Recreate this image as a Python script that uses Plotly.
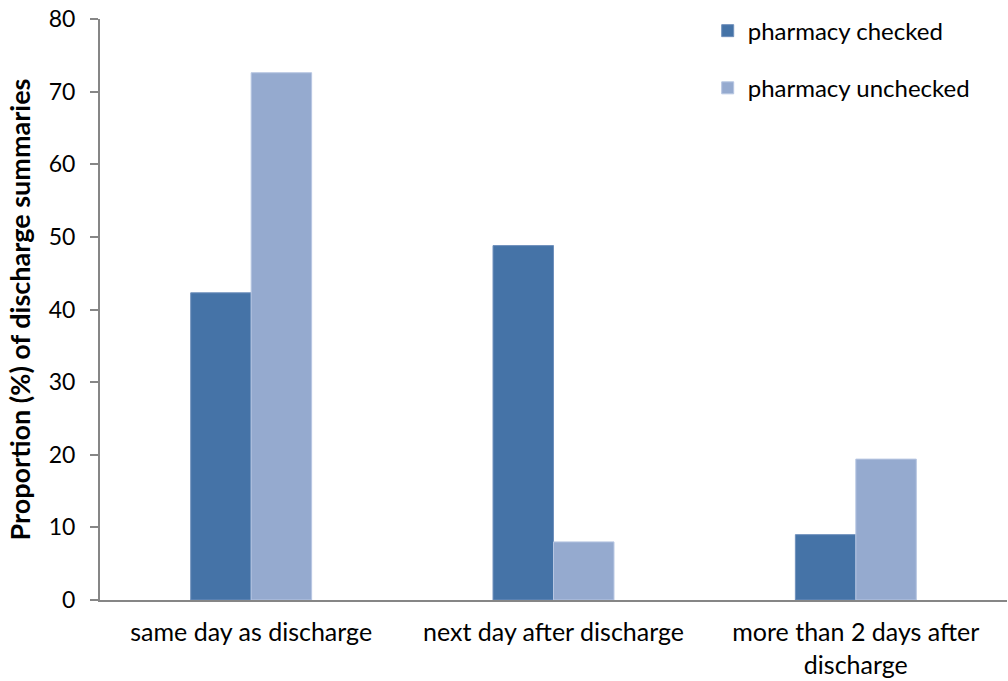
import plotly.graph_objects as go

categories = ["same day as discharge", "next day after discharge",
              "more than 2 days after<br>discharge"]
checked = [42.3, 48.8, 9.0]
unchecked = [72.6, 8.0, 19.4]
series_names = ["pharmacy checked", "pharmacy unchecked"]
y_ticks = [0, 10, 20, 30, 40, 50, 60, 70, 80]

FONT = "Lato"
colors = ["#4573A7", "#95AACF"]
edges = ["#6F90BC", "#B7C6E2"]

fig = go.Figure()
for name, vals, col, edge in zip(series_names, [checked, unchecked], colors, edges):
    fig.add_trace(go.Bar(
        x=categories, y=vals, name=name, legendgroup=name,
        marker=dict(color=col, line=dict(color=edge, width=1)),
    ))

fig.update_layout(
    width=1008, height=681,
    margin=dict(l=100, r=1, t=19, b=81),
    paper_bgcolor="white", plot_bgcolor="white",
    barmode="group", bargap=0.6, bargroupgap=0,
    font=dict(family=FONT, size=24, color="black"),
    legend=dict(x=0.67, y=1.018, xanchor="left", yanchor="top",
                font=dict(size=24), tracegroupgap=23,
                itemwidth=30, bgcolor="rgba(0,0,0,0)"),
    xaxis=dict(showline=True, linecolor="#868686", linewidth=2,
               ticks="", showgrid=False, tickfont=dict(size=25),
               ticklabelstandoff=9),
    yaxis=dict(range=[0, 80], tickvals=y_ticks, showline=True,
               linecolor="#868686", linewidth=2, ticks="outside",
               ticklen=8, tickcolor="#868686", tickwidth=2,
               showgrid=False, zeroline=False, tickfont=dict(size=23),
               ticklabelstandoff=10,
               title=dict(text="<b>Proportion (%) of discharge summaries</b>",
                          font=dict(size=27), standoff=10)),
)

fig.write_html("out.html")
